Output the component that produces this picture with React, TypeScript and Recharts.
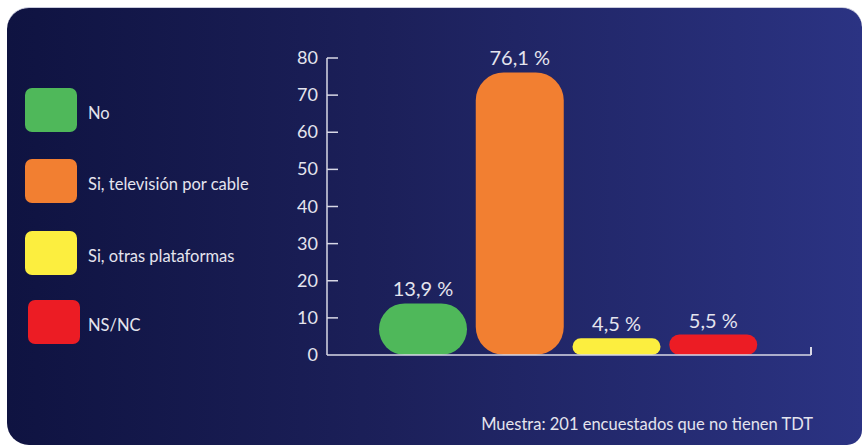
import { BarChart, Bar, XAxis, YAxis, LabelList, Cell } from 'recharts';

const categories = ['No', 'Si, televisión por cable', 'Si, otras plataformas', 'NS/NC'];
const percentages = [13.9, 76.1, 4.5, 5.5];
const colors = ['#4fb85a', '#f27f31', '#fcee3f', '#ec1c24'];
const yTicks = [0, 10, 20, 30, 40, 50, 60, 70, 80];
const note = 'Muestra: 201 encuestados que no tienen TDT';

const data = categories.map((name, i) => ({ name, value: percentages[i] }));

const FONT = 'Lato, "Open Sans", sans-serif';
const TEXT = '#e4e4ee';
const AXIS = '#d8d8e6';

const PillBar = (props: any) => {
  const { x, y, width, height, fill } = props;
  if (!height || height <= 0) return null;
  const r = Math.min(28, height / 2, width / 2);
  return <rect x={x} y={y} width={width} height={height} rx={r} ry={r} fill={fill} />;
};

const YTick = (props: any) => {
  const { x, y, payload } = props;
  return (
    <g>
      {payload.value !== 0 && <line x1={x} x2={x + 11} y1={y} y2={y} stroke={AXIS} strokeWidth={1.5} />}
      <text x={x - 9} y={y} dy={6} textAnchor="end" fill={TEXT} fontSize={18} fontFamily={FONT}>
        {payload.value}
      </text>
    </g>
  );
};

const fmt = (v: any) => `${String(v).replace('.', ',')} %`;

export default function App() {
  return (
    <div style={{ position: 'fixed', left: 0, top: 0, width: 863, height: 445, background: '#fff', overflow: 'hidden' }}>
      <div
        style={{
          position: 'absolute',
          left: 7,
          top: 7,
          width: 855,
          height: 437,
          borderRadius: '22px 20px 15px 22px',
          background: 'linear-gradient(90deg, #0f1341 0%, #1c205a 45%, #2b3383 100%)',
          borderTop: '1px solid #c8cadc',
        }}
      />
      <div style={{ position: 'absolute', left: 0, top: 0 }}>
        {categories.map((c, i) => (
          <div
            key={c}
            style={{
              position: 'absolute',
              left: i === 3 ? 28 : 25,
              top: [88, 159, 231, 300][i],
              display: 'flex',
              alignItems: 'center',
              whiteSpace: 'nowrap',
            }}
          >
            <div style={{ width: 52, height: 44, borderRadius: 7, background: colors[i] }} />
            <span style={{ marginLeft: i === 3 ? 8 : 11, marginTop: 5, color: TEXT, fontFamily: FONT, fontSize: 16.5 }}>
              {c}
            </span>
          </div>
        ))}
      </div>
      <div style={{ position: 'absolute', left: 0, top: 0 }}>
        <BarChart width={863} height={445} data={data} margin={{ top: 58, right: 52, bottom: 89, left: 0 }}>
          <YAxis
            domain={[0, 80]}
            ticks={yTicks}
            width={327}
            tickSize={0}
            tickMargin={0}
            tickLine={false}
            axisLine={{ stroke: AXIS, strokeWidth: 1.5 }}
            tick={<YTick />}
            interval={0}
          />
          <XAxis
            dataKey="name"
            height={1}
            tick={false}
            tickLine={false}
            axisLine={{ stroke: AXIS, strokeWidth: 1.5 }}
            padding={{ left: 48, right: 49 }}
          />
          <Bar dataKey="value" barSize={88} shape={<PillBar />} isAnimationActive={false}>
            {data.map((d, i) => (
              <Cell key={d.name} fill={colors[i]} />
            ))}
            <LabelList
              dataKey="value"
              position="top"
              offset={7}
              formatter={fmt}
              fill={TEXT}
              fontSize={20}
              fontFamily={FONT}
            />
          </Bar>
        </BarChart>
      </div>
      <div style={{ position: 'absolute', left: 810, top: 347, width: 1.5, height: 8, background: AXIS }} />
      <div
        style={{
          position: 'absolute',
          right: 50,
          top: 414,
          color: TEXT,
          fontFamily: FONT,
          fontSize: 16.5,
          whiteSpace: 'nowrap',
        }}
      >
        {note}
      </div>
    </div>
  );
}
